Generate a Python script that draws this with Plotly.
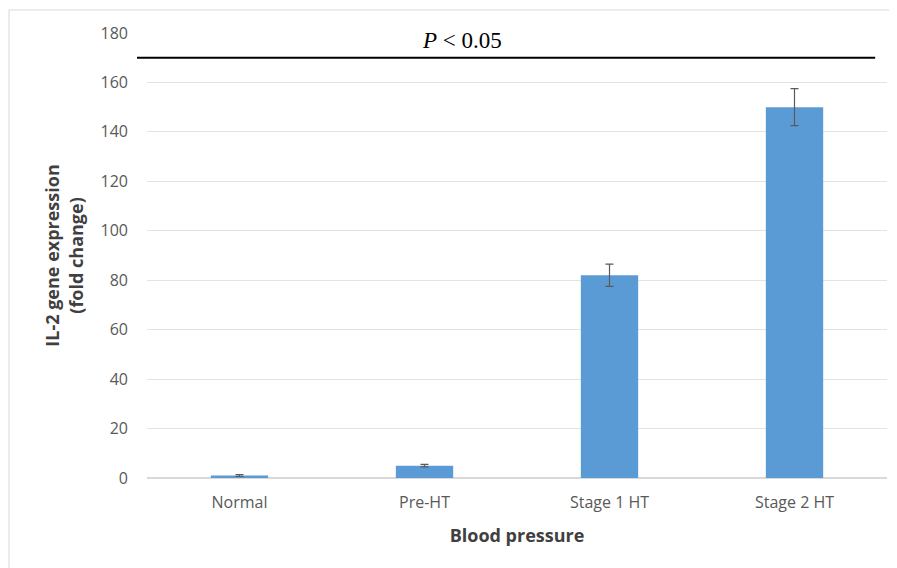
import plotly.graph_objects as go

categories = ["Normal", "Pre-HT", "Stage 1 HT", "Stage 2 HT"]
fold_change = [1.0, 5.0, 82.0, 150.0]
error = [0.4, 0.5, 4.5, 7.5]
y_ticks = [0, 20, 40, 60, 80, 100, 120, 140, 160, 180]
p_text = "<i>P</i> < 0.05"
p_level = 170

fig = go.Figure()
fig.add_trace(go.Bar(
    x=categories, y=fold_change,
    marker=dict(color="#5B9BD5", line=dict(width=0)),
    width=0.31,
    error_y=dict(type="data", array=error, visible=True, color="#5a5a5a", thickness=1.2, width=4),
))

fig.add_shape(type="line", xref="paper", yref="y", x0=-0.0135, x1=0.984, y0=p_level, y1=p_level,
              line=dict(color="black", width=2))
fig.add_annotation(xref="paper", yref="y", x=0.425, y=p_level, yanchor="bottom", yshift=3,
                   text=p_text, showarrow=False,
                   font=dict(family="Liberation Serif, Times New Roman, serif", size=23, color="black"))
# outer chart border (top and left edges visible)
fig.add_shape(type="rect", xref="paper", yref="paper", x0=-0.1865, x1=1.3, y0=-0.5, y1=1.0517,
              line=dict(color="#d9d9d9", width=1), fillcolor="rgba(0,0,0,0)", layer="below")

fig.update_layout(
    width=889, height=560,
    margin=dict(l=139, r=10, t=25, b=90),
    plot_bgcolor="white", paper_bgcolor="white",
    showlegend=False,
    font=dict(family="Open Sans, Lato, sans-serif", color="#595959", size=16),
    xaxis=dict(
        title=dict(text="<b>Blood pressure</b>", font=dict(size=18, color="#404040"), standoff=17),
        showgrid=False, showline=True, linecolor="#d9d9d9", linewidth=1,
        ticks="", ticklabelstandoff=10,
    ),
    yaxis=dict(
        title=dict(text="<b>IL-2 gene expression<br>(fold change)</b>", font=dict(size=18, color="#404040"), standoff=12),
        range=[0, 180], tickvals=y_ticks,
        showgrid=True, gridcolor="#e3e3e3", gridwidth=1,
        zeroline=True, zerolinecolor="#d9d9d9",
        showline=False, ticks="", ticklabelstandoff=18,
    ),
)

fig.write_html("out.html")
